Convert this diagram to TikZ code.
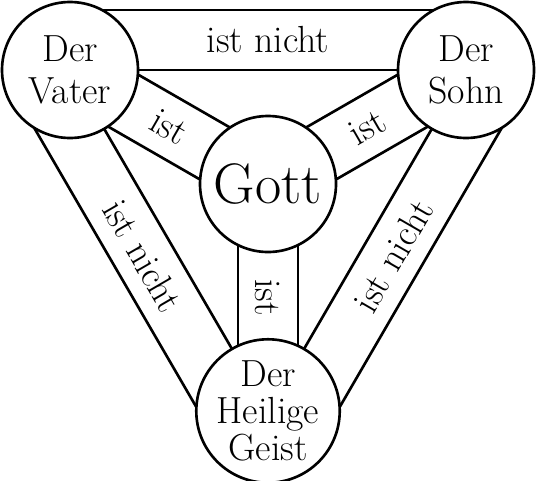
\documentclass[tikz,border=0pt]{standalone}
\usetikzlibrary{positioning, calc, backgrounds}

\begin{document}
\begin{tikzpicture}[
    person/.style = {
      circle, draw, fill = white, line width = 1.5pt,
      minimum size = 2.72cm, inner sep = 0pt, align = center,
      font = \fontsize{21.5}{24}\selectfont
    },
    god/.style = {
      person, font = \fontsize{32.5}{36}\selectfont
    },
    band/.style = {line width = 1.5pt},
    lbl/.style = {font = \fontsize{21.5}{24}\selectfont, inner sep = 0pt}
  ]
  \useasboundingbox (0,0) rectangle (10.72,9.6);

  % ---- Kreise ----
  \node[person] (vater) at (1.40,8.20) {Der\\Vater};
  \node[person] (sohn)  at (9.32,8.20) {Der\\Sohn};
  \node[god]    (gott)  at (5.36,5.92) {Gott};
  \node[person, font = \fontsize{21.5}{21}\selectfont] (geist) at (5.36,1.38)
    {Der\\Heilige\\Geist};

  \begin{scope}[on background layer]
    % ---- aussen: ist nicht ----
    \draw[band] (vater.center) -- (sohn.center);
    \draw[band] ($(vater)!1.2cm!90:(sohn)$) -- ($(sohn)!1.2cm!-90:(vater)$);
    \draw[band] (vater.center) -- (geist.center);
    \draw[band] ($(vater)!1.2cm!-90:(geist)$) -- ($(geist)!1.2cm!90:(vater)$);
    \draw[band] (sohn.center) -- (geist.center);
    \draw[band] ($(sohn)!1.2cm!90:(geist)$) -- ($(geist)!1.2cm!-90:(sohn)$);

    % ---- innen: ist ----
    \foreach \p in {vater, sohn, geist} {
      \draw[band] ($(gott)!0.6cm!90:(\p)$) -- ($(\p)!0.6cm!-90:(gott)$);
      \draw[band] ($(gott)!0.6cm!-90:(\p)$) -- ($(\p)!0.6cm!90:(gott)$);
    }
  \end{scope}

  % ---- Beschriftung ----
  \path ($(vater)!0.6cm!90:(sohn)$) -- ($(sohn)!0.6cm!-90:(vater)$)
    node[lbl, midway, sloped] {ist nicht};
  \path ($(vater)!0.6cm!-90:(geist)$) -- ($(geist)!0.6cm!90:(vater)$)
    node[lbl, midway, sloped] {ist nicht};
  \path ($(geist)!0.6cm!-90:(sohn)$) -- ($(sohn)!0.6cm!90:(geist)$)
    node[lbl, midway, sloped] {ist nicht};

  \path (vater.center) -- (gott.center) node[lbl, midway, sloped] {ist};
  \path (gott.center) -- (sohn.center) node[lbl, midway, sloped] {ist};
  \node[lbl, rotate = -90] (istgeist) at ($(gott)!0.5!(geist)$) {ist};

\end{tikzpicture}
\end{document}
